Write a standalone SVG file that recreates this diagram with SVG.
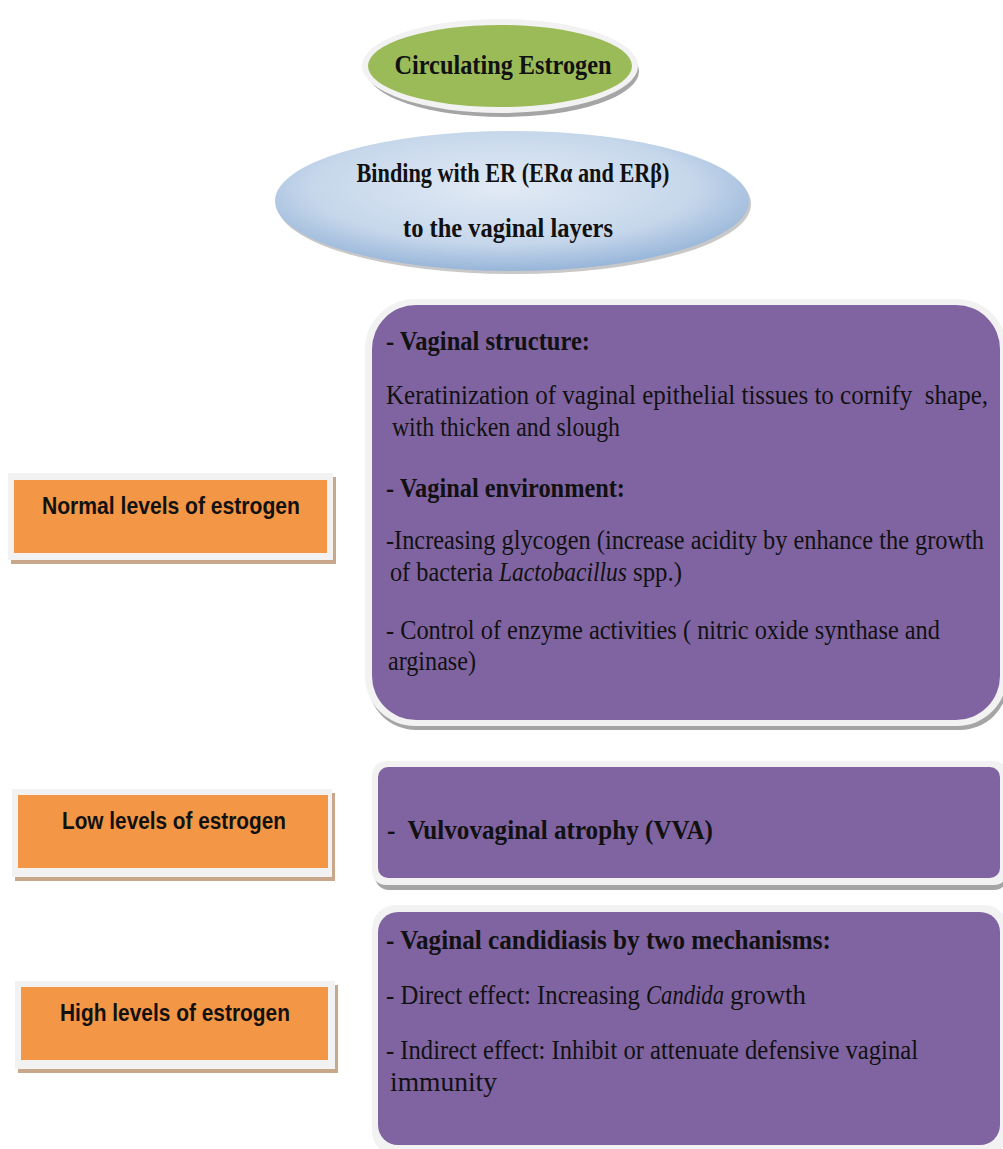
<svg xmlns="http://www.w3.org/2000/svg" width="1003" height="1149" viewBox="0 0 1003 1149">
<defs>
<radialGradient id="blueG" cx="0.48" cy="0.4" r="0.62">
<stop offset="0" stop-color="#e2eaf5"/>
<stop offset="0.65" stop-color="#c6d7eb"/>
<stop offset="1" stop-color="#93b2d7"/>
</radialGradient>
<style>
.ser{font-family:"Liberation Serif","Times New Roman",serif;fill:#111;white-space:pre;font-size:23px;}
.b{font-weight:bold;}
.it{font-style:italic;}
.lab{font-family:"Liberation Sans",Arial,sans-serif;font-weight:bold;font-size:20px;fill:#111;}
.purple{fill:#8064a2;}
.rim{fill:#f2f2f2;}
.shadow{fill:#a5a5a5;}
.orange{fill:#f39645;}
.oshadow{fill:#c9a78b;}
</style>
</defs>
<rect width="1003" height="1149" fill="#ffffff"/>

<g id="circulating-estrogen">
<ellipse cx="503" cy="71" rx="136" ry="46" class="shadow"/>
<ellipse cx="500" cy="66" rx="138" ry="47" class="rim"/>
<ellipse cx="500" cy="66" rx="132" ry="41" fill="#9bbb59"/>
<text x="503" y="74" transform="matrix(1 0 0 1.17 0 -12.58)" text-anchor="middle" class="ser b" textLength="217" lengthAdjust="spacingAndGlyphs">Circulating Estrogen</text>
</g>

<g id="binding-er">
<ellipse cx="514" cy="204" rx="237" ry="70" fill="#c8c8c8"/>
<ellipse cx="512" cy="201" rx="237" ry="70" fill="url(#blueG)"/>
<text x="513" y="182" transform="matrix(1 0 0 1.17 0 -30.94)" text-anchor="middle" class="ser b" textLength="313" lengthAdjust="spacingAndGlyphs">Binding with ER (ERα and ERβ)</text>
<text x="508" y="237" transform="matrix(1 0 0 1.17 0 -40.29)" text-anchor="middle" class="ser b" textLength="210" lengthAdjust="spacingAndGlyphs">to the vaginal layers</text>
</g>

<g id="normal-levels">
<rect x="11" y="477" width="325" height="87" class="oshadow"/>
<rect x="8" y="473" width="325" height="87" class="rim"/>
<rect x="14" y="480" width="313" height="73" class="orange"/>
<text x="171" y="514" transform="matrix(1 0 0 1.15 0 -77.1)" text-anchor="middle" class="lab" textLength="258" lengthAdjust="spacingAndGlyphs">Normal levels of estrogen</text>
</g>

<g id="low-levels">
<rect x="15" y="793" width="320" height="88" class="oshadow"/>
<rect x="12" y="789" width="320" height="88" class="rim"/>
<rect x="18" y="795" width="310" height="73" class="orange"/>
<text x="174" y="829" transform="matrix(1 0 0 1.15 0 -124.35)" text-anchor="middle" class="lab" textLength="224" lengthAdjust="spacingAndGlyphs">Low levels of estrogen</text>
</g>

<g id="high-levels">
<rect x="18" y="985" width="320" height="88" class="oshadow"/>
<rect x="15" y="981" width="320" height="88" class="rim"/>
<rect x="21" y="987" width="307" height="73" class="orange"/>
<text x="175" y="1021" transform="matrix(1 0 0 1.15 0 -153.15)" text-anchor="middle" class="lab" textLength="230" lengthAdjust="spacingAndGlyphs">High levels of estrogen</text>
</g>

<g id="normal-effects">
<rect x="368" y="306" width="640" height="424" rx="48" class="shadow"/>
<rect x="365" y="299" width="642" height="427" rx="50" class="rim"/>
<rect x="372" y="305" width="628" height="415" rx="44" class="purple"/>
<text x="386" y="350" transform="matrix(1 0 0 1.17 0 -59.5)" class="ser b" textLength="204" lengthAdjust="spacingAndGlyphs">- Vaginal structure:</text>
<text x="386" y="404" transform="matrix(1 0 0 1.17 0 -68.68)" class="ser" textLength="602" lengthAdjust="spacingAndGlyphs">Keratinization of vaginal epithelial tissues to cornify  shape,</text>
<text x="386" y="436" transform="matrix(1 0 0 1.17 0 -74.12)" class="ser" textLength="234" lengthAdjust="spacingAndGlyphs"> with thicken and slough</text>
<text x="386" y="497" transform="matrix(1 0 0 1.17 0 -84.49)" class="ser b" textLength="239" lengthAdjust="spacingAndGlyphs">- Vaginal environment:</text>
<text x="386" y="549" transform="matrix(1 0 0 1.17 0 -93.33)" class="ser" textLength="598" lengthAdjust="spacingAndGlyphs">-Increasing glycogen (increase acidity by enhance the growth</text>
<text x="390" y="581" transform="matrix(1 0 0 1.17 0 -98.77)" class="ser" textLength="103" lengthAdjust="spacingAndGlyphs">of bacteria</text>
<text x="499" y="581" transform="matrix(1 0 0 1.17 0 -98.77)" class="ser it" textLength="128" lengthAdjust="spacingAndGlyphs">Lactobacillus</text>
<text x="633" y="581" transform="matrix(1 0 0 1.17 0 -98.77)" class="ser" textLength="49" lengthAdjust="spacingAndGlyphs">spp.)</text>
<text x="386" y="639" transform="matrix(1 0 0 1.17 0 -108.63)" class="ser" textLength="554" lengthAdjust="spacingAndGlyphs">- Control of enzyme activities ( nitric oxide synthase and</text>
<text x="388" y="670" transform="matrix(1 0 0 1.17 0 -113.9)" class="ser" textLength="88" lengthAdjust="spacingAndGlyphs">arginase)</text>
</g>

<g id="low-effects">
<rect x="375" y="766" width="633" height="124" rx="14" class="shadow"/>
<rect x="372" y="761" width="636" height="124" rx="14" class="rim"/>
<rect x="378" y="767" width="622" height="111" rx="10" class="purple"/>
<text x="387" y="839" transform="matrix(1 0 0 1.17 0 -142.63)" class="ser b" textLength="326" lengthAdjust="spacingAndGlyphs">-  Vulvovaginal atrophy (VVA)</text>
</g>

<g id="high-effects">
<rect x="375" y="910" width="633" height="245" rx="24" class="shadow"/>
<rect x="372" y="905" width="636" height="250" rx="24" class="rim"/>
<rect x="378" y="912" width="622" height="233" rx="20" class="purple"/>
<text x="386" y="949" transform="matrix(1 0 0 1.17 0 -161.33)" class="ser b" textLength="445" lengthAdjust="spacingAndGlyphs">- Vaginal candidiasis by two mechanisms:</text>
<text x="386" y="1004" transform="matrix(1 0 0 1.17 0 -170.68)" class="ser" textLength="254" lengthAdjust="spacingAndGlyphs">- Direct effect: Increasing</text>
<text x="646" y="1004" transform="matrix(1 0 0 1.17 0 -170.68)" class="ser it" textLength="78" lengthAdjust="spacingAndGlyphs">Candida</text>
<text x="730" y="1004" transform="matrix(1 0 0 1.17 0 -170.68)" class="ser" textLength="76" lengthAdjust="spacingAndGlyphs">growth</text>
<text x="386" y="1059" transform="matrix(1 0 0 1.17 0 -180.03)" class="ser" textLength="532" lengthAdjust="spacingAndGlyphs">- Indirect effect: Inhibit or attenuate defensive vaginal</text>
<text x="390" y="1091" transform="matrix(1 0 0 1.17 0 -185.47)" class="ser" textLength="107" lengthAdjust="spacingAndGlyphs">immunity</text>
</g>

<g id="connectors"></g>
</svg>
